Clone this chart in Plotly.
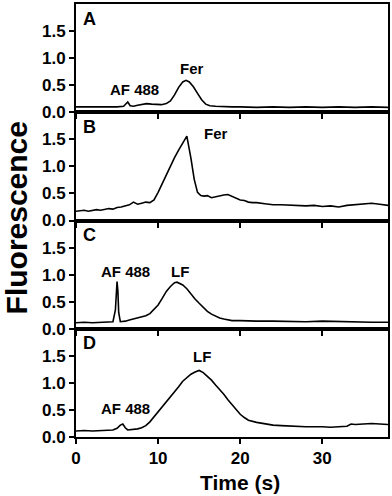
import plotly.graph_objects as go
from plotly.subplots import make_subplots

# panel A: ferritin + AF 488
time_a = [0, 1, 2, 3, 4, 5, 5.8, 6.3, 6.6, 7.0, 7.5, 8.0, 8.6, 9.2, 9.8, 10.4, 11.0, 11.5,
          12.0, 12.5, 13.0, 13.4, 13.8, 14.3, 14.8, 15.3, 15.8, 16.3, 17, 18, 19, 20, 22, 24,
          26, 28, 30, 32, 34, 36, 38]
fluor_a = [0.10, 0.10, 0.09, 0.10, 0.10, 0.10, 0.11, 0.19, 0.12, 0.11, 0.13, 0.15, 0.16, 0.15,
           0.14, 0.14, 0.16, 0.21, 0.32, 0.46, 0.56, 0.59, 0.56, 0.47, 0.35, 0.23, 0.15, 0.12,
           0.11, 0.10, 0.10, 0.10, 0.09, 0.10, 0.09, 0.10, 0.09, 0.10, 0.09, 0.10, 0.09]

# panel B: ferritin
time_b = [0, 0.5, 1, 1.5, 2, 2.5, 3, 3.5, 4, 4.5, 5, 5.5, 6, 6.5, 7, 7.5, 8, 8.5, 9, 9.5, 10,
          10.5, 11, 11.5, 12, 12.5, 13, 13.5, 14, 14.4, 14.8, 15.2, 15.6, 16, 16.5, 17, 17.5,
          18, 18.5, 19, 19.5, 20, 20.5, 21, 21.5, 22, 23, 24, 25, 26, 27, 28, 29, 30, 31, 32,
          33, 34, 35, 36, 37, 38]
fluor_b = [0.17, 0.18, 0.19, 0.17, 0.19, 0.20, 0.19, 0.21, 0.22, 0.21, 0.24, 0.25, 0.27, 0.29,
           0.34, 0.30, 0.32, 0.34, 0.33, 0.38, 0.52, 0.68, 0.86, 1.02, 1.16, 1.30, 1.42, 1.56,
           1.15, 0.76, 0.52, 0.46, 0.45, 0.46, 0.42, 0.44, 0.46, 0.47, 0.48, 0.45, 0.41, 0.38,
           0.37, 0.34, 0.33, 0.33, 0.31, 0.29, 0.29, 0.28, 0.27, 0.27, 0.28, 0.26, 0.27, 0.25,
           0.28, 0.29, 0.30, 0.32, 0.30, 0.28]

# panel C: lactoferrin + AF 488
time_c = [0, 1, 2, 3, 4, 4.5, 4.8, 4.9, 5.0, 5.1, 5.2, 5.4, 5.7, 6, 6.5, 7, 7.5, 8, 8.5, 9,
          9.5, 10, 10.5, 11, 11.5, 12, 12.3, 12.6, 13, 13.5, 14, 14.5, 15, 15.5, 16, 16.5, 17,
          17.5, 18, 18.5, 19, 20, 21, 22, 24, 26, 28, 30, 32, 34, 36, 38]
fluor_c = [0.11, 0.12, 0.11, 0.12, 0.12, 0.13, 0.35, 0.75, 0.87, 0.70, 0.30, 0.13, 0.13, 0.14,
           0.16, 0.18, 0.20, 0.22, 0.24, 0.28, 0.36, 0.44, 0.56, 0.69, 0.78, 0.85, 0.86, 0.84,
           0.81, 0.74, 0.64, 0.55, 0.47, 0.39, 0.32, 0.27, 0.23, 0.20, 0.18, 0.16, 0.15, 0.15,
           0.14, 0.14, 0.14, 0.13, 0.13, 0.14, 0.13, 0.13, 0.12, 0.12]

# panel D: lactoferrin + AF 488
time_d = [0, 1, 2, 3, 4, 4.5, 5, 5.4, 5.7, 6.0, 6.3, 7, 7.5, 8, 8.5, 9, 9.5, 10, 10.5, 11,
          11.5, 12, 12.5, 13, 13.5, 14, 14.5, 15, 15.5, 16, 16.5, 17, 17.5, 18, 18.5, 19, 19.5,
          20, 20.5, 21, 22, 23, 24, 25, 26, 28, 30, 31, 32, 33, 33.5, 34, 35, 36, 37, 38]
fluor_d = [0.11, 0.12, 0.11, 0.12, 0.13, 0.13, 0.16, 0.22, 0.24, 0.17, 0.13, 0.14, 0.15, 0.17,
           0.21, 0.28, 0.37, 0.47, 0.56, 0.66, 0.75, 0.84, 0.93, 1.03, 1.10, 1.16, 1.20, 1.23,
           1.19, 1.12, 1.05, 0.96, 0.88, 0.79, 0.69, 0.60, 0.50, 0.42, 0.36, 0.31, 0.27, 0.24,
           0.22, 0.21, 0.20, 0.19, 0.19, 0.18, 0.19, 0.20, 0.24, 0.23, 0.24, 0.25, 0.24, 0.23]

panel_letters = ["A", "B", "C", "D"]
y_ticks = [0, 0.5, 1.0, 1.5]
y_tick_text = ["0.0", "0.5", "1.0", "1.5"]
x_ticks = [0, 10, 20, 30]

# peak labels: (row, x, y, text)
peak_labels = [
    (1, 7.1, 0.42, "AF 488"),
    (1, 14.1, 0.80, "Fer"),
    (2, 17.0, 1.60, "Fer"),
    (3, 6.0, 1.05, "AF 488"),
    (3, 12.7, 1.05, "LF"),
    (4, 15.4, 1.48, "LF"),
    (4, 6.0, 0.53, "AF 488"),
]

FONT = "Arial"

fig = make_subplots(rows=4, cols=1, shared_xaxes=True, vertical_spacing=0)

series = [(time_a, fluor_a), (time_b, fluor_b), (time_c, fluor_c), (time_d, fluor_d)]
for i, (t, f) in enumerate(series, start=1):
    fig.add_trace(
        go.Scatter(x=t, y=f, mode="lines", line=dict(color="black", width=1.6),
                   showlegend=False),
        row=i, col=1,
    )
    fig.update_yaxes(
        range=[0, 2.0], tickvals=y_ticks, ticktext=y_tick_text,
        ticks="outside", ticklen=5, tickwidth=2, tickcolor="black",
        showline=True, linewidth=2, linecolor="black", mirror=True,
        showgrid=False, zeroline=False,
        tickfont=dict(family=FONT, size=17, color="black", weight="bold"),
        row=i, col=1,
    )
    fig.update_xaxes(
        range=[0, 38], tickvals=x_ticks,
        ticks="outside", ticklen=5, tickwidth=2, tickcolor="black",
        showline=True, linewidth=2, linecolor="black", mirror=True,
        showgrid=False, zeroline=False,
        tickfont=dict(family=FONT, size=17, color="black", weight="bold"),
        row=i, col=1,
    )
    xref = "x" if i == 1 else f"x{i}"
    yref = "y" if i == 1 else f"y{i}"
    fig.add_annotation(
        x=0.015, y=0.975, xref=f"{xref} domain", yref=f"{yref} domain",
        xanchor="left", yanchor="top", showarrow=False, text=panel_letters[i - 1],
        font=dict(family=FONT, size=18, color="black", weight="bold"),
    )

for row, x, y, text in peak_labels:
    xref = "x" if row == 1 else f"x{row}"
    yref = "y" if row == 1 else f"y{row}"
    fig.add_annotation(
        x=x, y=y, xref=xref, yref=yref, showarrow=False, text=text,
        font=dict(family=FONT, size=15, color="black", weight="bold"),
    )

fig.add_annotation(
    x=-0.192, y=0.505, xref="paper", yref="paper", xanchor="center", yanchor="middle",
    textangle=-90, showarrow=False,
    text="Fluorescence", font=dict(family=FONT, size=30, color="black", weight="bold"),
)
fig.add_annotation(
    x=0.526, y=-0.106, xref="paper", yref="paper", xanchor="center", yanchor="middle",
    showarrow=False,
    text="Time (s)", font=dict(family=FONT, size=21, color="black", weight="bold"),
)

fig.update_layout(
    width=392, height=496,
    margin=dict(l=76, r=4, t=2, b=59),
    paper_bgcolor="white", plot_bgcolor="white",
)

# drop the browser's default body margin so the figure sits at the page corner
fig.write_html("out.html", config={"displayModeBar": False},
               post_script="document.body.style.margin='0';")
